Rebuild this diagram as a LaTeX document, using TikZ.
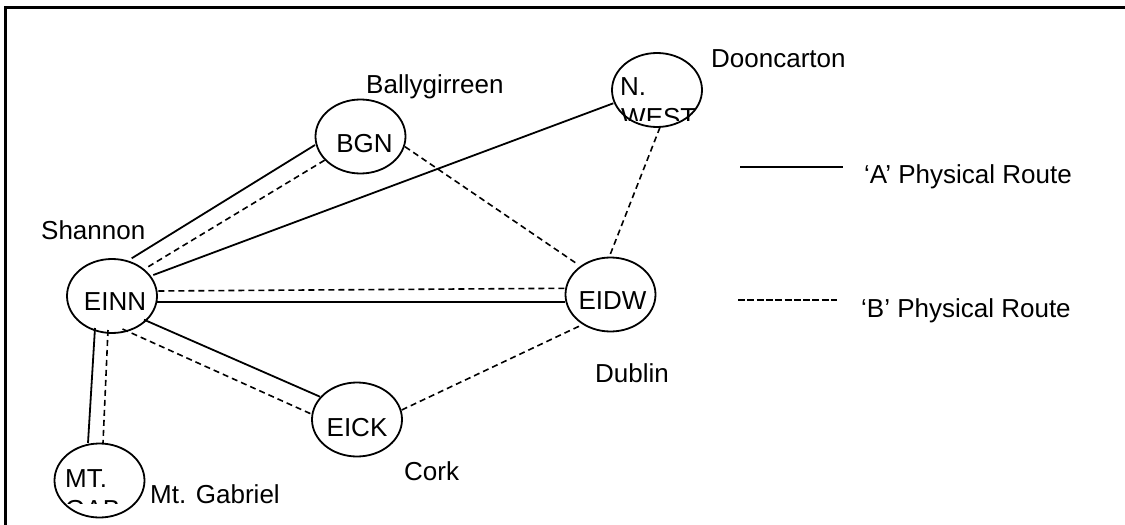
\documentclass[tikz,border=0pt]{standalone}
\usepackage{fontspec}
\setmainfont{Liberation Sans}
\usetikzlibrary{shapes.geometric,calc}
\begin{document}
\begin{tikzpicture}[x=1pt,y=-1pt,
  station/.style={draw, ellipse, line width=1.8pt, minimum width=90pt, minimum height=74pt, inner sep=0pt},
  txt/.style={font=\fontsize{26}{31}\selectfont, inner sep=0pt},
  routeA/.style={line width=1.8pt},
  routeB/.style={line width=1.6pt, dash pattern=on 6pt off 4pt},
  keyB/.style={line width=2.4pt, dash pattern=on 7pt off 2.3pt},
]
\useasboundingbox (0,0) rectangle (1125,525);

% frame (top and left edges)
\draw[line width=2.5pt] (5.5,525) -- (5.5,7.5) -- (1125,7.5);

% stations
\node[station] (einn) at (112,296) {};
\node[station] (bgn)  at (360.5,136.5) {};
\node[station] (nw)   at (657,90) {};
\node[station] (eidw) at (610.5,294.5) {};
\node[station] (eick) at (357,419.5) {};
\node[station] (mt)   at (99.5,480.5) {};

% station codes
\node[txt] (einn-t) at ($(einn)+(3,6)$) {EINN};
\node[txt] (bgn-t)  at ($(bgn)+(4,7)$) {BGN};
\node[txt] (eidw-t) at ($(eidw)+(2,6.5)$) {EIDW};
\node[txt] (eick-t) at ($(eick)+(0,8)$) {EICK};

% two-line codes cut off by their text boxes
\begin{scope}
  \clip ($(nw)+(-45,-45)$) rectangle ($(nw)+(45,30)$);
  \node[txt, anchor=base west] (nw-t1) at ($(nw)+(-37,5.6)$) {N.};
  \node[txt, anchor=base west] (nw-t2) at ($(nw)+(-36,36.6)$) {WEST};
\end{scope}
\begin{scope}
  \clip ($(mt)+(-45,-45)$) rectangle ($(mt)+(45,22.5)$);
  \node[txt, anchor=base west] (mt-t1) at ($(mt)+(-34.5,6.5)$) {MT.};
  \node[txt, anchor=base west] (mt-t2) at ($(mt)+(-34.5,37.5)$) {GAB};
\end{scope}

% place names
\node[txt, anchor=base west] (shannon) at (41,239) {Shannon};
\node[txt, anchor=base west] (bally)   at (366,93) {Ballygirreen};
\node[txt, anchor=base west] (doon)    at (711,67) {Dooncarton};
\node[txt, anchor=base west] (dublin)  at (595,382) {Dublin};
\node[txt, anchor=base west] (cork)    at (404,480) {Cork};
\node[txt, anchor=base west] (gabriel) at (150,503) {Mt. Gabriel};

% routes
\draw[routeA] ($(einn)+(19.7,-37.7)$) -- ($(bgn)+(-45.5,8.5)$);
\draw[routeB] ($(einn)+(36.3,-29.3)$) -- ($(bgn)+(-35.5,23.5)$);
\draw[routeA] ($(einn)+(41.3,-21)$) -- ($(nw)+(-43.7,13.3)$);
\draw[routeB] ($(einn)+(46.3,-5)$) -- ($(eidw)+(-45.5,-6.2)$);
\draw[routeA] ($(einn)+(45.3,5.7)$) -- ($(eidw)+(-45.5,7.2)$);
\draw[routeA] ($(einn)+(32,23.7)$) -- ($(eick)+(-37,-22.8)$);
\draw[routeB] ($(einn)+(10.5,33)$) -- ($(eick)+(-45.3,-5.3)$);
\draw[routeA] ($(einn)+(-17,32)$) -- ($(mt)+(-11.5,-37.5)$);
\draw[routeB] ($(einn)+(-4,34)$) -- ($(mt)+(3.5,-37.5)$);
\draw[routeB] ($(bgn)+(44.5,10.2)$) -- ($(eidw)+(-33.2,-30.5)$);
\draw[routeB] ($(nw)+(3,37.3)$) -- ($(eidw)+(-0.5,-39.5)$);
\draw[routeB] ($(eick)+(44.7,-9.5)$) -- ($(eidw)+(-28.8,30.5)$);

% key
\coordinate (ka1) at (740,167);
\coordinate (ka2) at (843,167);
\coordinate (kb1) at (738,300);
\coordinate (kb2) at (837,300);
\draw[routeA] (ka1) -- (ka2);
\draw[keyB] (kb1) -- (kb2);
\node[txt, anchor=base west] (key-a) at (864,183) {‘A’ Physical Route};
\node[txt, anchor=base west] (key-b) at (861,317) {‘B’ Physical Route};
\end{tikzpicture}
\end{document}
